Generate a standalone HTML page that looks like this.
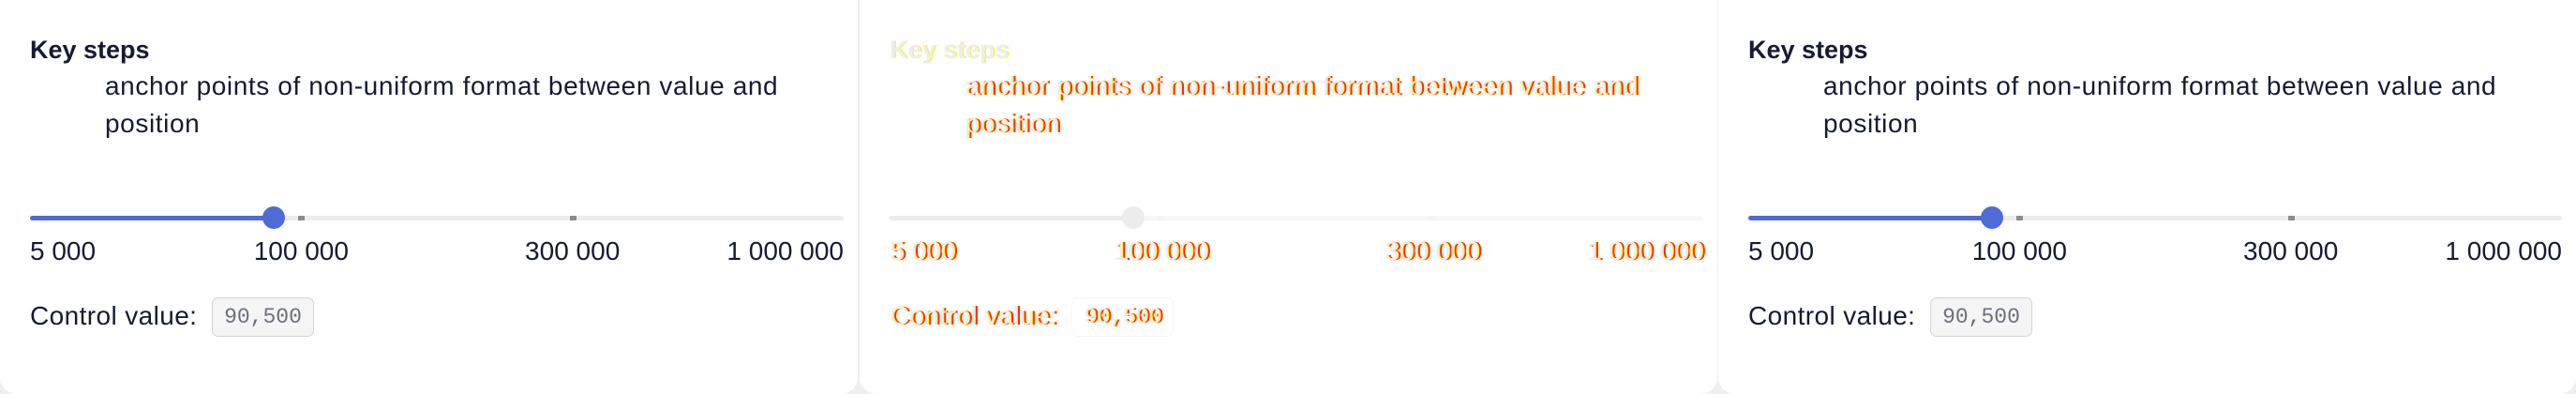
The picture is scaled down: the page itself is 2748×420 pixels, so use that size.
<!DOCTYPE html>
<html><head><meta charset="utf-8">
<style>
html,body{margin:0;padding:0;width:2748px;height:420px;overflow:hidden;background:#eeeff1;font-family:"Liberation Sans",sans-serif;}
.card{position:absolute;top:0;width:915px;height:420px;background:#fff;border-radius:0 0 18px 18px;color:#161a33;}
.title{position:absolute;left:32px;top:36px;font-size:27px;font-weight:bold;line-height:34px;}
.desc{position:absolute;left:112px;top:72px;width:760px;font-size:28px;line-height:40px;letter-spacing:0.6px;}
.track{position:absolute;left:32px;top:230px;width:868px;height:5px;border-radius:3px;background:#ececec;}
.fill{position:absolute;left:32px;top:230px;height:5px;border-radius:3px;background:#4f6bd6;}
.thumb{position:absolute;top:220px;width:24px;height:24px;border-radius:12px;background:#4f6bd6;margin-left:-12px;}
.tick{position:absolute;top:230px;width:7px;height:5px;background:#8c8c8c;margin-left:-3px;}
.lbl{position:absolute;top:253px;font-size:28px;line-height:30px;white-space:nowrap;}
.ctl{position:absolute;left:32px;top:320px;font-size:28px;line-height:34px;letter-spacing:0.4px;}
.code{position:absolute;left:226px;top:317px;width:109px;height:42px;border:1.5px solid #d4d4d4;border-radius:7px;background:#f5f5f6;font-family:"Liberation Mono",monospace;font-size:23px;line-height:40px;text-align:center;color:#6b6f7c;box-sizing:border-box;}
.ghost{color:#ededed;text-shadow:1px 0 0 #ffee00,3px 0 0 #ff2a00;}
.ghost .title,.ghost .lbl:first-of-type{text-shadow:1px 0 0 #ffee00;}
.ghost .fill,.ghost .thumb{background:#ececec;}
.ghost .track{background:#f7f7f7;}
.ghost .tick{background:#f3f3f3;}
.ghost .code{background:#fff;border-color:#f6f6f6;color:#ededed;}
</style></head><body>
<div id="root"></div>
<script>
const anchorValues=[5000,100000,300000,1000000];
const anchorLabels=["5 000","100 000","300 000","1 000 000"];
const controlValue=90500;
const controlLabel="90,500";
const cardOffsets=[0,917,1833];
const X0=32,W=868;
function xScale(v){
  const n=anchorValues.length-1;
  for(let i=0;i<n;i++){
    if(v<=anchorValues[i+1]){
      const f=(v-anchorValues[i])/(anchorValues[i+1]-anchorValues[i]);
      return X0+W*(i+f)/n;
    }
  }
  return X0+W;
}
const root=document.getElementById('root');
cardOffsets.forEach((off,ci)=>{
  const c=document.createElement('div');
  c.className='card'+(ci===1?' ghost':'');
  c.style.left=off+'px';
  
  
  let h='<div class="title">Key steps</div>'+
    '<div class="desc">anchor points of non-uniform format between value and position</div>'+
    '<div class="track"></div>';
  const tx=xScale(controlValue);
  h+='<div class="fill" style="width:'+(tx-X0)+'px"></div>';
  for(let i=1;i<anchorValues.length-1;i++){
    h+='<div class="tick" style="left:'+xScale(anchorValues[i])+'px"></div>';
  }
  h+='<div class="thumb" style="left:'+tx+'px"></div>';
  anchorValues.forEach((v,i)=>{
    const x=xScale(v);
    let st;
    if(i===0) st='left:'+x+'px';
    else if(i===anchorValues.length-1) st='right:'+(915-x)+'px';
    else st='left:'+x+'px;transform:translateX(-50%)';
    h+='<div class="lbl" style="'+st+'">'+anchorLabels[i]+'</div>';
  });
  h+='<div class="ctl">Control value:</div>'+
     '<div class="code">'+controlLabel+'</div>';
  c.innerHTML=h;
  root.appendChild(c);
});
</script>
</body></html>
